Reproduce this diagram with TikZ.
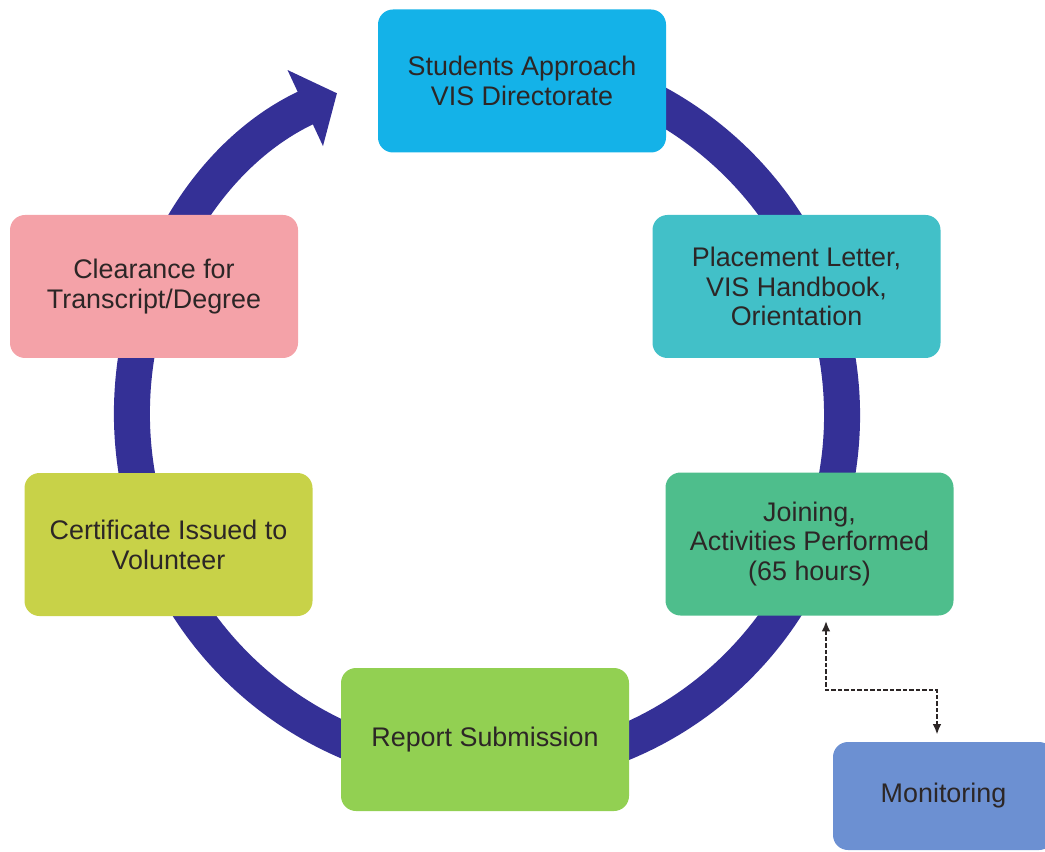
\documentclass[tikz,border=0pt]{standalone}
\usepackage{fontspec}
\setmainfont{Liberation Sans}
\usetikzlibrary{arrows.meta}

\definecolor{ringblue}{RGB}{52,48,150}
\definecolor{stepcyan}{RGB}{20,178,232}
\definecolor{stepteal}{RGB}{66,192,200}
\definecolor{stepgreen}{RGB}{78,190,140}
\definecolor{steplime}{RGB}{146,208,82}
\definecolor{stepolive}{RGB}{200,210,72}
\definecolor{steppink}{RGB}{244,162,168}
\definecolor{stepsteel}{RGB}{108,144,210}
\definecolor{txt}{RGB}{44,38,38}

\tikzset{
	stage/.style={rounded corners=0.3cm, minimum width=5.76cm, minimum height=2.86cm,
		align=center, text=txt, font=\fontsize{15.3}{17}\selectfont},
	cycle/.style={line width=0.72cm, ringblue, -{Triangle[length=0.7cm,width=1.64cm]}},
	link/.style={line width=1.6pt, txt, dash pattern=on 2.5pt off 1.2pt,
		{Latex[length=6pt,width=5pt]}-{Latex[length=6pt,width=5pt]},
		shorten <=0.1cm, shorten >=0.14cm}
}

\begin{document}
\begin{tikzpicture}
	\useasboundingbox (0,0) rectangle (20.9,-17.04);
	\clip (0,0) rectangle (20.9,-17.04);

	% the ring
	\draw[cycle] (9.74,-8.3) ++(100:7.1) arc[start angle=100, end angle=-245, radius=7.1];

	\node[stage, fill=stepcyan] (approach) at (10.44,-1.62) {Students Approach\\VIS Directorate};
	\node[stage, fill=stepteal] (placement) at (15.93,-5.73) {Placement Letter,\\VIS Handbook,\\Orientation};
	\node[stage, fill=stepgreen] (joining) at (16.19,-10.88) {Joining,\\Activities Performed\\(65 hours)};
	\node[stage, fill=steplime] (report) at (9.70,-14.79) {Report Submission};
	\node[stage, fill=stepolive] (certificate) at (3.37,-10.89) {Certificate Issued to\\Volunteer};
	\node[stage, fill=steppink] (clearance) at (3.08,-5.73) {Clearance for\\Transcript/Degree};
	\node[stage, fill=stepsteel, minimum width=4.42cm, minimum height=2.16cm] (monitoring) at (18.87,-15.92) {Monitoring};

	% monitoring link
	\coordinate (bend) at (18.74,-13.8);
	\draw[link] ([xshift=0.33cm]joining.south) |- (bend) -- (bend |- monitoring.north);
\end{tikzpicture}
\end{document}
